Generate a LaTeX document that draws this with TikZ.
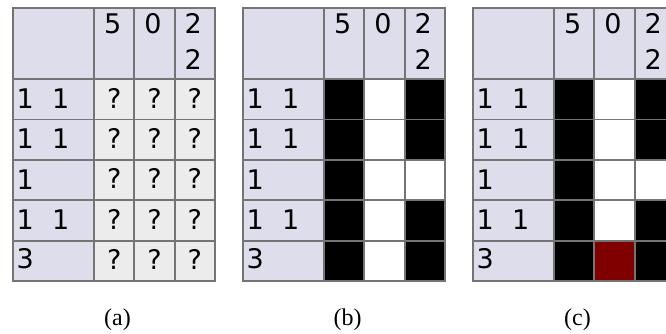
\documentclass[tikz,border=0pt]{standalone}
\usepackage{fontspec}
\setmainfont{Liberation Serif}
\newfontfamily\gridfont{DejaVu Sans}
\definecolor{cluebg}{HTML}{DDDDEB}
\definecolor{unknownbg}{HTML}{ECECEC}
\definecolor{gridgray}{HTML}{747474}
\definecolor{conflict}{HTML}{800000}

\begin{document}
\begin{tikzpicture}[
        x = 1pt, y = -1pt,
        num/.style      = {font=\gridfont\fontsize{27}{31}\selectfont, inner sep=0pt, anchor=base},
        clue/.style     = {num, anchor=base west},
        panelcap/.style = {font=\fontsize{24}{28}\selectfont, inner sep=0pt, anchor=base},
        gridline/.style = {draw=gridgray, line width=1.8pt}
    ]
    \clip (0,0) rectangle (666,333);
    % clue backgrounds
    \foreach \L in {13,243,473} {
        \fill[cluebg] (\L,8) rectangle ++(202,71);
        \fill[cluebg] (\L,79) rectangle ++(81,202);
    }
    % (a) unknown cells
    \fill[unknownbg] (94,79) rectangle ++(121,202);
    \foreach \c in {1,2,3}
        \foreach \r in {1,...,5}
            \node[num] (a-q-\r-\c) at ({94+40.33*(\c-0.5)}, {79+40.4*(\r-1)+29}) {?};
    % (b), (c) filled cells
    \foreach \L in {243,473} {
        \fill[white] (\L+81,79) rectangle ++(121,202);
        \fill[black] (\L+81,79) rectangle ++(40.33,202);
        \foreach \r in {1,2,4,5}
            \fill[black] ({\L+161.67},{79+40.4*(\r-1)}) rectangle ++(40.33,40.4);
    }
    \fill[conflict] (594.33,240.6) rectangle ++(40.33,40.4);
    % clues, grid lines, captions
    \foreach \L/\p in {13/a,243/b,473/c} {
        \node[num] (\p-col-1)   at (\L+99.7,33)  {5};
        \node[num] (\p-col-2)   at (\L+140,33)   {0};
        \node[num] (\p-col-3a)  at (\L+180.3,33) {2};
        \node[num] (\p-col-3b)  at (\L+180.3,69) {2};
        \node[clue] (\p-row-1a) at (\L+3.3,108.2) {1};
        \node[clue] (\p-row-1b) at (\L+39,108.2) {1};
        \node[clue] (\p-row-2a) at (\L+3.3,148.6) {1};
        \node[clue] (\p-row-2b) at (\L+39,148.6) {1};
        \node[clue] (\p-row-3)  at (\L+3.3,189) {1};
        \node[clue] (\p-row-4a) at (\L+3.3,229.4) {1};
        \node[clue] (\p-row-4b) at (\L+39,229.4) {1};
        \node[clue] (\p-row-5)  at (\L+3.3,268.8) {3};
        \draw[gridline] (\L,8) rectangle (\L+202,281);
        \draw[gridline] (\L,79) -- ++(202,0);
        \foreach \r in {2,...,5}
            \draw[gridline] (\L,{79+40.4*(\r-1)}) -- ++(202,0);
        \foreach \c in {0,1,2}
            \draw[gridline] ({\L+81+40.33*\c},8) -- ++(0,273);
        \node[panelcap] (cap-\p) at (\L+104.5,325) {(\p)};
    }
\end{tikzpicture}
\end{document}
